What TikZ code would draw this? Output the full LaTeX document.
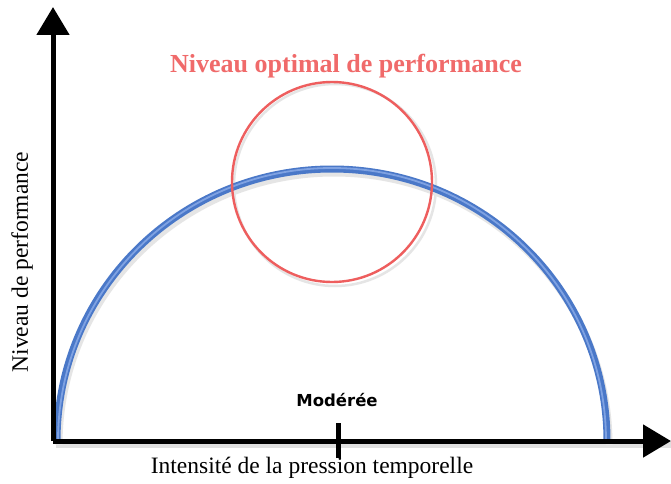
\documentclass[tikz,border=0pt]{standalone}
\usepackage{fontspec}
\setmainfont{Liberation Serif}
\newfontfamily\comicfont{DejaVu Sans}
\usetikzlibrary{arrows.meta}
\definecolor{titlered}{HTML}{F06A6A}
\definecolor{circred}{HTML}{EE5E5E}
\definecolor{curveblue}{HTML}{4A78C8}
\definecolor{curvelight}{HTML}{7FA2E2}
\tikzset{
  axis/.style={line width=5pt, black, -{Triangle[length=28pt,width=32pt]}},
  shadowline/.style={line width=6pt, black!12},
  curve/.style={line width=7pt, curveblue},
  curvehl/.style={line width=1.8pt, curvelight},
  lbl/.style={font=\fontsize{23.5}{26}\selectfont, inner sep=0pt},
}
\begin{document}
\begin{tikzpicture}[x=1pt,y=1pt]
\useasboundingbox (0,0) rectangle (671,483);
\fill[white] (0,0) rectangle (671,483);
% coordinates
\coordinate (O) at (53,42);
\coordinate (ytip) at (53,476);
\coordinate (xtip) at (671,42);
\coordinate (cL) at (57,42);
\coordinate (tickT) at (338,60);
\coordinate (tickB) at (338,25);
% shadows
\draw[shadowline] ([shift={(3,-4)}]O) -- ([shift={(3,-4)}]xtip |- O);
\draw[line width=2.5pt, black!10] (335,298) circle[radius=101];
\draw[line width=7pt, black!10] ([shift={(2,-4)}]cL) arc[start angle=180, end angle=0, x radius=275, y radius=272];
% curve
\draw[curve] (cL) arc[start angle=180, end angle=0, x radius=275, y radius=272];
\draw[curvehl] (cL) ++(1,0) arc[start angle=180, end angle=0, x radius=274, y radius=273];
% circle
\node[draw=circred, line width=2.4pt, circle, minimum size=200pt, inner sep=0pt] (ring) at (332,301) {};
% axes
\draw[axis] (O) -- (ytip);
\draw[axis] (O) -- (xtip);
\draw[line width=5pt] (tickB) -- (tickT);
% labels
\node[font=\bfseries\fontsize{26}{28}\selectfont, text=titlered, inner sep=0pt] (title) at (346,417) {Niveau optimal de performance};
\node[font=\comicfont\bfseries\fontsize{16.5}{18}\selectfont, inner sep=0pt] (mod) at (337,83) {Modérée};
\node[lbl] (xlab) at (312,15) {Intensité de la pression temporelle};
\node[lbl, rotate=90] (ylab) at (22,221) {Niveau de performance};
\end{tikzpicture}
\end{document}
